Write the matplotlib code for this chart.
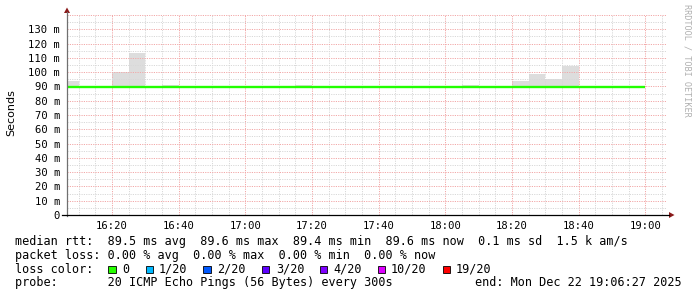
import matplotlib
matplotlib.use("Agg")
import matplotlib.pyplot as plt
import numpy as np
from matplotlib.patches import Rectangle, Polygon
from matplotlib.lines import Line2D

W, H = 697, 297
DPI = 100

# ---------------- data ----------------
# 5-minute steps, edges in minutes since midnight (16:05 .. 19:00)
step_start_min = 965
step_len_min = 5
# median rtt per step (ms)
median_ms = [89.5, 89.5, 89.4, 89.5, 89.6, 89.5, 89.5, 89.5, 89.4, 89.5,
             89.5, 89.5, 89.5, 89.6, 89.5, 89.5, 89.5, 89.4, 89.5, 89.5,
             89.5, 89.5, 89.5, 89.5, 89.6, 89.5, 89.5, 89.5, 89.5, 89.5,
             89.5, 89.5, 89.5, 89.5, 89.6]
# smoke (max ping) per step (ms)
smoke_top_ms = [93.6, 90.0, 90.0, 100.4, 113.4, 90.0, 90.8, 90.0, 90.0, 90.0,
                90.0, 90.0, 90.0, 90.0, 90.8, 90.0, 90.0, 90.0, 90.0, 90.0,
                90.0, 90.0, 90.0, 90.0, 90.8, 90.0, 90.0, 93.6, 98.5, 95.5,
                104.1, 90.0, 90.0, 90.0, 90.0]
smoke_bottom_ms = [89.2] * 35

x_start_min = 16 * 60 + 6 + 27 / 60
x_end_min = 19 * 60 + 6 + 27 / 60
x_tick_min = [980, 1000, 1020, 1040, 1060, 1080, 1100, 1120, 1140]
x_tick_labels = ["16:20", "16:40", "17:00", "17:20", "17:40",
                 "18:00", "18:20", "18:40", "19:00"]
y_ticks_ms = [0, 10, 20, 30, 40, 50, 60, 70, 80, 90, 100, 110, 120, 130]
y_max_ms = 140

loss_labels = ["0", "1/20", "2/20", "3/20", "4/20", "10/20", "19/20"]
loss_colors = ["#26ff00", "#00b8ff", "#0059ff", "#5e00ff", "#7e00ff", "#dd00ff", "#ff0000"]

stats_rtt = "median rtt:  89.5 ms avg  89.6 ms max  89.4 ms min  89.6 ms now  0.1 ms sd  1.5 k am/s"
stats_loss = "packet loss: 0.00 % avg  0.00 % max  0.00 % min  0.00 % now"
probe_text = "probe:       20 ICMP Echo Pings (56 Bytes) every 300s"
end_text = "end: Mon Dec 22 19:06:27 2025"

# ---------------- figure ----------------
MONO = "DejaVu Sans Mono"
fig = plt.figure(figsize=(W / DPI, H / DPI), dpi=DPI, facecolor="white")


def fx(px):
    return px / W


def fy(py):
    return 1 - py / H


ax_l, ax_r, ax_b, ax_t = 67, 667, 215, 15
ax = fig.add_axes([fx(ax_l), fy(ax_b), fx(ax_r) - fx(ax_l), fy(ax_t) - fy(ax_b)])
ax.set_facecolor("white")

edges = step_start_min + step_len_min * np.arange(len(median_ms) + 1)
ax.stairs(smoke_top_ms, edges, baseline=smoke_bottom_ms, fill=True,
          color="#dddddd", linewidth=0, zorder=1)

# grid
grid_ls = (0, (1.2, 1.2))
for m in range(970, 1150, 5):
    if m % 20 == 0:
        ax.axvline(m, color="#f2a8a8", lw=0.7, ls=grid_ls, zorder=2)
    else:
        ax.axvline(m, color="#d8d8d8", lw=0.7, ls=grid_ls, zorder=2)
for v in range(5, y_max_ms + 1, 5):
    if v % 10 == 0:
        ax.axhline(v, color="#f2a8a8", lw=0.7, ls=grid_ls, zorder=2)
    else:
        ax.axhline(v, color="#d8d8d8", lw=0.7, ls=grid_ls, zorder=2)

ax.stairs(median_ms, edges, color="#22ff00", linewidth=1.7, zorder=3, baseline=None)

ax.set_xlim(x_start_min, x_end_min)
ax.set_ylim(0, y_max_ms)
ax.set_xticks(x_tick_min)
ax.set_xticklabels(x_tick_labels, fontfamily=MONO, fontsize=7.6)
ax.set_yticks(y_ticks_ms)
ax.set_yticklabels([("%d m" % v) if v else "0" for v in y_ticks_ms],
                   fontfamily=MONO, fontsize=7.6)
ax.tick_params(axis="both", length=0)
ax.tick_params(axis="y", pad=5)
ax.tick_params(axis="x", pad=4.5)
for s in ax.spines.values():
    s.set_visible(False)

# axes lines and arrows (figure pixel coordinates)
fig.add_artist(Line2D([fx(67), fx(67)], [fy(216), fy(12)], color="#707070", lw=0.9))
fig.add_artist(Line2D([fx(62), fx(669)], [fy(215), fy(215)], color="black", lw=0.9))
fig.add_artist(Polygon([(fx(64), fy(13)), (fx(70), fy(13)), (fx(67), fy(7.5))],
                       closed=True, color="#8b1a1a", lw=0))
fig.add_artist(Polygon([(fx(669), fy(212)), (fx(669), fy(218)), (fx(674.5), fy(215))],
                       closed=True, color="#8b1a1a", lw=0))

# y label and watermark
fig.text(fx(11), fy(113), "Seconds", rotation=90, ha="center", va="center",
         fontsize=8, family="DejaVu Sans")
fig.text(fx(686.5), fy(4), "RRDTOOL / TOBI OETIKER", rotation=270, ha="center",
         va="top", fontsize=6.1, family=MONO, color="#b0b0b0")

# legend
FS = 8.5
fig.text(fx(15), fy(241.5), stats_rtt, ha="left", va="center", fontsize=FS, family=MONO)
fig.text(fx(15), fy(255), stats_loss, ha="left", va="center", fontsize=FS, family=MONO)
fig.text(fx(15), fy(269.3), "loss color:", ha="left", va="center", fontsize=FS, family=MONO)
fig.text(fx(15), fy(282.7), probe_text, ha="left", va="center", fontsize=FS, family=MONO)
fig.text(fx(682), fy(282.7), end_text, ha="right", va="center", fontsize=FS, family=MONO)

box_x = [108.3, 145.7, 203.3, 261.7, 320.0, 377.7, 442.7]
lab_x = [122.3, 159.0, 217.3, 275.7, 333.3, 390.7, 455.7]
for bx, lx, lab, col in zip(box_x, lab_x, loss_labels, loss_colors):
    fig.add_artist(Rectangle((fx(bx), fy(273.3)), fx(7.4), 7.6 / H,
                             facecolor=col, edgecolor="black", lw=0.6))
    fig.text(fx(lx), fy(269.3), lab, ha="left", va="center", fontsize=FS, family=MONO)

fig.savefig("out.png", dpi=DPI, facecolor="white")
